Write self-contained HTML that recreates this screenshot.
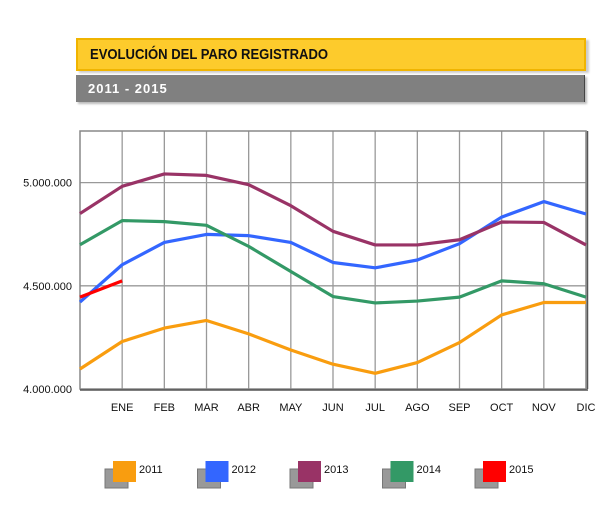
<!DOCTYPE html>
<html><head><meta charset="utf-8"><style>
body{margin:0;background:#fff;width:610px;height:529px;overflow:hidden;font-family:"Liberation Sans",sans-serif;position:relative}
.t{position:absolute;left:76px;top:38px;width:506px;height:29px;background:#fdcb2c;border:2px solid #f0b400;box-shadow:3px 2px 2px #ccc}
.t span{position:absolute;left:12px;top:6px;font-size:15px;font-weight:bold;color:#111;transform:scaleX(0.87);transform-origin:left}
.s{position:absolute;left:76px;top:75px;width:508px;height:27px;background:#808080;box-shadow:2px 2px 2px #bbb;border-right:1px solid #444}
.s span{position:absolute;left:12px;top:6px;font-size:13px;font-weight:bold;color:#fff;letter-spacing:1px}
</style></head><body>
<div class="t"><span>EVOLUCIÓN DEL PARO REGISTRADO</span></div>
<div class="s"><span>2011 - 2015</span></div>
<svg id="c" width="610" height="529" style="position:absolute;left:0;top:0"></svg>
<script>
const months=["","ENE","FEB","MAR","ABR","MAY","JUN","JUL","AGO","SEP","OCT","NOV","DIC"];
const yTicks=[4000000,4500000,5000000];
const yTickLabels=["4.000.000","4.500.000","5.000.000"];
const years=["2011","2012","2013","2014","2015"];
const colors=["#f99d0f","#3366ff","#993366","#339966","#ff0000"];
const s2011=[4097,4230,4295,4332,4267,4189,4120,4076,4128,4225,4359,4419,4419];
const s2012=[4421,4602,4710,4749,4743,4710,4613,4587,4625,4704,4833,4908,4848];
const s2013=[4850,4982,5042,5035,4990,4888,4764,4698,4698,4723,4809,4807,4698];
const s2014=[4699,4816,4811,4793,4691,4569,4448,4417,4426,4445,4524,4510,4445];
const s2015=[4445,4524];
const series=[s2011,s2012,s2013,s2014,s2015];
const L=80,R=586,T=131,B=389,ymin=4000000,ymax=5250000;
const x=i=>L+i*(R-L)/12;
const y=v=>B-(v-ymin)/(ymax-ymin)*(B-T);
const svg=document.getElementById('c');const NS="http://www.w3.org/2000/svg";
function mk(t,a,p){const e=document.createElementNS(NS,t);for(const k in a)e.setAttribute(k,a[k]);(p||svg).appendChild(e);return e;}
for(let i=1;i<12;i++){const g=mk('line',{x1:x(i),x2:x(i),y1:T,y2:B,stroke:'#999','stroke-width':1.3});

}
yTicks.forEach((v,i)=>{if(i>0){const g=mk('line',{x1:L,x2:R,y1:y(v),y2:y(v),stroke:'#999','stroke-width':1.3});

}
const t=mk('text',{x:72,y:y(v)+4,'text-anchor':'end','font-size':11,fill:'#111'});t.textContent=yTickLabels[i];

});
const fr=mk('rect',{x:L,y:T,width:R-L,height:B-T,fill:'none',stroke:'#888','stroke-width':1.5});


mk('line',{x1:R+1.5,x2:R+1.5,y1:T,y2:B,stroke:'#555','stroke-width':1.5});
mk('line',{x1:L,x2:R+2,y1:B+1,y2:B+1,stroke:'#555','stroke-width':1.5});
months.forEach((m,i)=>{if(!m)return;const t=mk('text',{x:x(i),y:411,'text-anchor':'middle','font-size':11,fill:'#111'});t.textContent=m;

});
series.forEach((s,k)=>{const p=mk('polyline',{points:s.map((v,i)=>x(i)+','+y(v*1000)).join(' '),fill:'none',stroke:colors[k],'stroke-width':3.2,'stroke-linejoin':'round'});

});
years.forEach((yr,k)=>{const lx=113+k*92.5,ly=461;
const g=mk('g',{});


mk('rect',{x:lx-8,y:ly+8,width:23,height:19,fill:'#999',stroke:'#777'},g);
mk('rect',{x:lx,y:ly,width:23,height:21,fill:colors[k]},g);
const t=mk('text',{x:lx+26,y:ly+12,'font-size':11,fill:'#111'},g);t.textContent=yr;});
</script>
</body></html>
